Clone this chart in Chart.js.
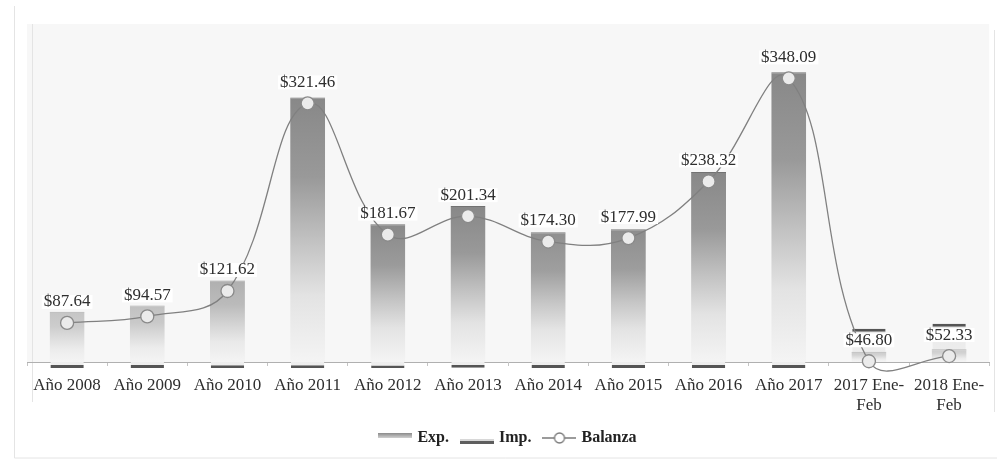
<!DOCTYPE html>
<html>
<head>
<meta charset="utf-8">
<script src="https://cdn.jsdelivr.net/npm/chart.js@4.4.1/dist/chart.umd.min.js"></script>
<style>
html,body{margin:0;padding:0;background:#fff;}
#wrap{width:997px;height:461px;position:relative;}
</style>
</head>
<body>
<div id="wrap"><canvas id="c" width="997" height="461"></canvas></div>
<script>
// ---- data ----
const categories = ['Año 2008','Año 2009','Año 2010','Año 2011','Año 2012','Año 2013','Año 2014','Año 2015','Año 2016','Año 2017',['2017 Ene-','Feb'],['2018 Ene-','Feb']];
const expValues = [99.6, 106.1, 132.8, 327.8, 192.8, 212.1, 184.3, 187.5, 248.5, 354.6, 56.8, 59.5];
const impValues = [39.6, 39.6, 39.4, 39.4, 39.2, 39.8, 39.6, 39.6, 39.6, 39.6, 81.4, 86.8];
const balanzaValues = [87.64, 94.57, 121.62, 321.46, 181.67, 201.34, 174.30, 177.99, 238.32, 348.09, 46.80, 52.33];
const seriesNames = ['Exp.', 'Imp.', 'Balanza'];
const yRange = { min: 46, max: 406 };

const SERIF = '"Liberation Serif", "Times New Roman", serif';

function gray(v){ v = Math.round(Math.max(0, Math.min(255, v))); return 'rgb(' + v + ',' + v + ',' + v + ')'; }

function topShade(h){
  const k = Math.max(0, Math.min(1, (h - 40) / 100));
  return 204 - k * 68;
}

function expFill(c) {
  const chart = c.chart;
  const area = chart.chartArea;
  if (!area || c.type !== 'data') return '#b5b5b5';
  const ys = chart.scales.y;
  const top = ys.getPixelForValue(expValues[c.dataIndex]);
  const base = area.bottom;
  const s0 = topShade(base - top);
  const end = 244;
  const g = chart.ctx.createLinearGradient(0, top, 0, base);
  [[0,0],[0.3,0.16],[0.55,0.55],[0.75,0.84],[1,1]].forEach(([t,f]) => g.addColorStop(t, gray(s0 + (end - s0) * f)));
  return g;
}
function expEdge(c) {
  const chart = c.chart;
  const area = chart.chartArea;
  if (!area || c.type !== 'data') return '#999';
  const top = chart.scales.y.getPixelForValue(expValues[c.dataIndex]);
  return gray(topShade(area.bottom - top) - 22);
}

function impFill(c) {
  const chart = c.chart;
  const area = chart.chartArea;
  if (!area) return '#eee';
  const g = chart.ctx.createLinearGradient(0, area.top + 260, 0, area.bottom + 4);
  g.addColorStop(0, 'rgba(230,230,230,1)');
  g.addColorStop(1, 'rgba(238,238,238,1)');
  return g;
}

function makeSymbol(kind) {
  const cv = document.createElement('canvas');
  cv.width = 34; cv.height = 16;
  const x = cv.getContext('2d');
  if (kind === 0) {
    const g = x.createLinearGradient(0, 3, 0, 8);
    g.addColorStop(0, '#8a8a8a'); g.addColorStop(1, '#d0d0d0');
    x.fillStyle = g; x.fillRect(0, 3, 34, 5);
  } else if (kind === 1) {
    x.fillStyle = '#d8d8d8'; x.fillRect(0, 9, 34, 2);
    x.fillStyle = '#5e5e5e'; x.fillRect(0, 11, 34, 3);
  } else {
    x.strokeStyle = '#7a7a7a'; x.lineWidth = 1.3;
    x.beginPath(); x.moveTo(0, 8); x.lineTo(34, 8); x.stroke();
    x.beginPath(); x.arc(17, 8, 5, 0, Math.PI * 2);
    x.fillStyle = '#ffffff'; x.fill(); x.stroke();
  }
  return cv;
}
const symbols = [makeSymbol(0), makeSymbol(1), makeSymbol(2)];

const framePlugin = {
  id: 'frame',
  beforeDraw(chart) {
    const { ctx, chartArea: a, width, height } = chart;
    ctx.save();
    ctx.fillStyle = '#ffffff';
    ctx.fillRect(0, 0, width, height);
    ctx.fillStyle = '#f7f7f7';
    ctx.fillRect(a.left, a.top, a.right - a.left, a.bottom - a.top);
    ctx.strokeStyle = '#e4e4e4';
    ctx.lineWidth = 1;
    ctx.beginPath();
    ctx.moveTo(14.5, 6); ctx.lineTo(14.5, height - 3);
    ctx.lineTo(width, height - 3);
    ctx.moveTo(a.left + 5.5, a.top); ctx.lineTo(a.left + 5.5, a.bottom + 40);
    ctx.moveTo(width - 2.5, a.top + 6); ctx.lineTo(width - 2.5, a.bottom + 50);
    ctx.stroke();
    ctx.restore();
  }
};

const labelPlugin = {
  id: 'vals',
  afterDatasetsDraw(chart) {
    const meta = chart.getDatasetMeta(2);
    const ctx = chart.ctx;
    ctx.save();
    ctx.font = '17px ' + SERIF;
    ctx.textAlign = 'center';
    ctx.textBaseline = 'middle';
    meta.data.forEach((pt, i) => {
      const txt = '$' + balanzaValues[i].toFixed(2);
      const w = ctx.measureText(txt).width;
      const y = pt.y - 21;
      ctx.fillStyle = '#ffffff';
      ctx.fillRect(pt.x - w / 2 - 2, y - 7, w + 4, 14);
      ctx.fillStyle = '#2e2e2e';
      ctx.fillText(txt, pt.x, y);
    });
    ctx.restore();
  }
};

new Chart(document.getElementById('c'), {
  data: {
    labels: categories,
    datasets: [
      { type: 'bar', label: seriesNames[0], data: expValues, backgroundColor: expFill,
        borderColor: expEdge, borderWidth: { top: 1, left: 0, right: 0, bottom: 0 }, borderSkipped: 'start',
        base: yRange.min, grouped: false, barPercentage: 0.545, categoryPercentage: 0.8, order: 1 },
      { type: 'bar', label: seriesNames[1], data: impValues, backgroundColor: impFill,
        borderColor: '#555555', borderWidth: { top: 3, bottom: 3, left: 0, right: 0 }, borderSkipped: 'start',
        base: yRange.min, grouped: false, barPercentage: 0.52, categoryPercentage: 0.8, order: 2,
        clip: { left: false, top: false, right: false, bottom: 6 } },
      { type: 'line', label: seriesNames[2], data: balanzaValues, borderColor: '#808080', borderWidth: 1.3,
        tension: 0.4, capBezierPoints: false, pointRadius: 6.5, pointBackgroundColor: '#ebebeb', pointBorderColor: '#8a8a8a',
        pointBorderWidth: 1.3, clip: false, order: 0 }
    ]
  },
  options: {
    responsive: false,
    animation: false,
    devicePixelRatio: 1,
    layout: { padding: { left: 27, right: 6, top: 24, bottom: 5 } },
    scales: {
      x: {
        offset: true,
        grid: { drawOnChartArea: false, drawTicks: true, tickLength: 4, color: '#c4c4c4', offset: true },
        border: { display: true, color: '#b0b0b0', width: 1 },
        ticks: { color: '#2e2e2e', font: { family: SERIF, size: 17 }, padding: 9, maxRotation: 0, autoSkip: false },
        afterFit(scale) { scale.height = 54; }
      },
      y: { display: false, min: yRange.min, max: yRange.max }
    },
    plugins: {
      tooltip: { enabled: false },
      legend: {
        position: 'bottom',
        labels: {
          usePointStyle: true,
          pointStyleWidth: 28,
          boxHeight: 16,
          padding: 14,
          color: '#222',
          font: { family: SERIF, size: 16, weight: 'bold' },
          generateLabels(chart) {
            return seriesNames.map((n, i) => ({
              text: n, pointStyle: symbols[i], datasetIndex: i, hidden: false,
              fontColor: '#222', lineWidth: 0, strokeStyle: 'rgba(0,0,0,0)', fillStyle: 'rgba(0,0,0,0)'
            }));
          }
        }
      }
    }
  },
  plugins: [framePlugin, labelPlugin]
});
</script>
</body>
</html>
